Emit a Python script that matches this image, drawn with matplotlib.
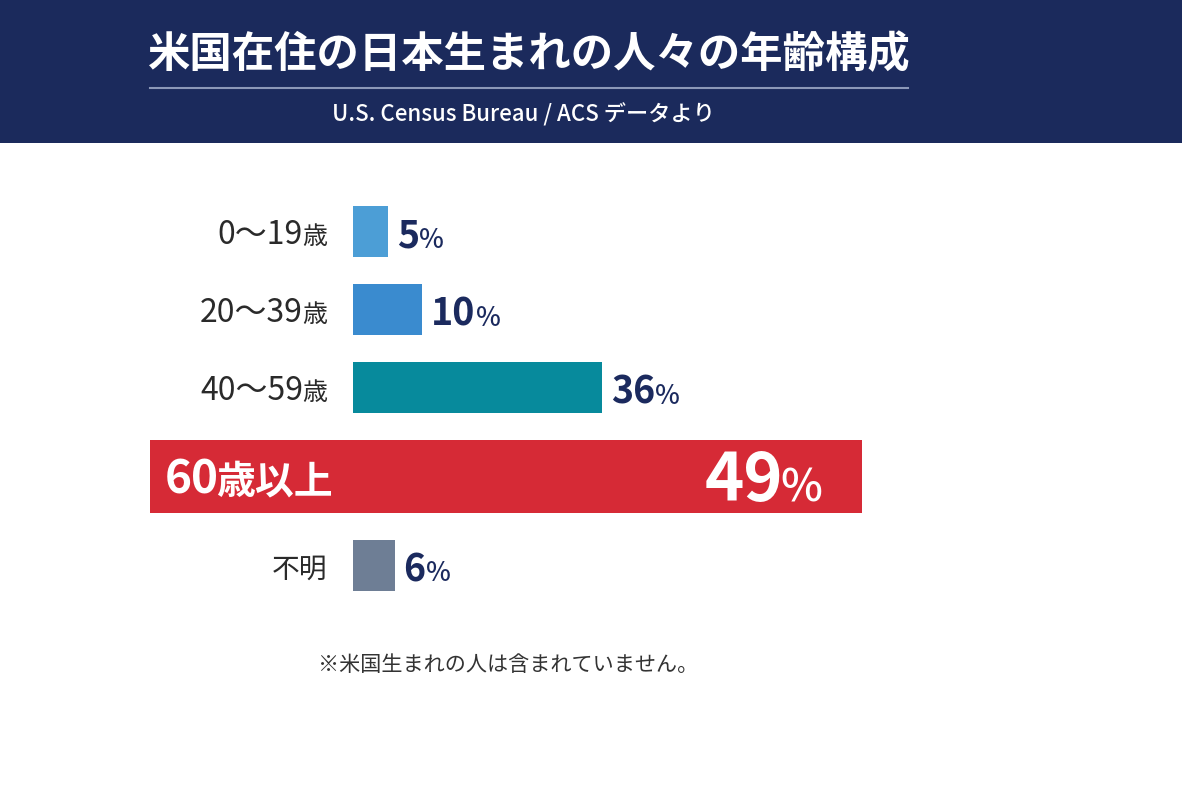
import re
import matplotlib
matplotlib.use("Agg")
import matplotlib.pyplot as plt
from matplotlib.patches import Rectangle
from matplotlib.lines import Line2D
from matplotlib.transforms import blended_transform_factory

plt.rcParams['font.family'] = ['Noto Sans CJK JP', 'DejaVu Sans']

# ---- data ----
categories = ["0〜19歳", "20〜39歳", "40〜59歳", "60歳以上", "不明"]
values = [5, 10, 36, 49, 6]
highlight = "60歳以上"
bar_colors = ["#4C9ED6", "#3A8BCF", "#078A9C", "#D62A36", "#6E7E95"]
title = "米国在住の日本生まれの人々の年齢構成"
subtitle = "U.S. Census Bureau / ACS データより"
footnote = "※米国生まれの人は含まれていません。"

# ---- layout ----
W, H = 1182, 788
navy = "#1B2A5E"
fig = plt.figure(figsize=(W / 100, H / 100), dpi=100)
fig.patch.set_facecolor("white")

# header band
fig.patches.append(Rectangle((0, 1 - 143 / H), 1, 143 / H, transform=fig.transFigure,
                             facecolor="#1B2A5C", edgecolor="none", zorder=0))
fig.add_artist(Line2D([150 / W, 908 / W], [1 - 88 / H] * 2, transform=fig.transFigure,
                      color="#8C98B8", lw=1.5))
fig.text(529 / W, 1 - 55 / H, title, color="white", fontsize=30.5, fontweight="bold",
         ha="center", va="center")
fig.text(523 / W, 1 - 115 / H, subtitle, color="white", fontsize=16, fontweight="medium",
         ha="center", va="center")

# row slots: normal bar height, highlighted bar height and gap (slot units)
h_norm, h_high, gap = 0.654, 0.936, 0.346
unit_px = 78.0
heights = [h_high if c == highlight else h_norm for c in categories]
ypos = [0.0]
for k in range(1, len(categories)):
    ypos.append(ypos[-1] + (heights[k - 1] + heights[k]) / 2 + gap)

first_center_px = 230
top_lim, bot_lim = -0.5, ypos[-1] + 0.5
top_px = first_center_px + top_lim * unit_px + 1.5
bot_px = first_center_px + bot_lim * unit_px + 1.5

px_per_unit = 6.92
left_px, right_px = 353, 1100
ax = fig.add_axes([left_px / W, 1 - bot_px / H, (right_px - left_px) / W, (bot_px - top_px) / H])
ax.set_xlim(0, (right_px - left_px) / px_per_unit)
ax.set_ylim(bot_lim, top_lim)
ax.axis("off")

ax.barh(ypos, values, height=heights, color=bar_colors, zorder=2)

band_tr = blended_transform_factory(fig.transFigure, ax.transData)
mixed = (fig.transFigure, ax.transData)

for i, (cat, v, col, y) in enumerate(zip(categories, values, bar_colors, ypos)):
    m = re.match(r"^([\d~〜]*)(.*)$", cat)
    num, unit = m.group(1), m.group(2)
    if cat == highlight:
        ax.add_patch(Rectangle((150 / W, y - heights[i] / 2), (862 - 150) / W, heights[i],
                               transform=band_tr, facecolor=col, edgecolor="none",
                               zorder=1, clip_on=False))
        t_num = ax.annotate(num, xy=(165 / W, y), xycoords=mixed, xytext=(0, -17),
                            textcoords="offset pixels", ha="left", va="baseline",
                            fontsize=33, fontweight="bold", color="white", zorder=3)
        ax.annotate(unit, xy=(1, y), xycoords=(t_num, ax.transData), xytext=(-3, -17),
                    textcoords="offset pixels", ha="left", va="baseline",
                    fontsize=28, fontweight="bold", color="white", zorder=3)
        t_pct = ax.annotate("%", xy=(822 / W, y), xycoords=mixed, xytext=(0, -25),
                            textcoords="offset pixels", ha="right", va="baseline",
                            fontsize=32, fontweight="medium", color="white", zorder=3)
        ax.annotate(f"{v}", xy=(0, y), xycoords=(t_pct, ax.transData), xytext=(3, -25),
                    textcoords="offset pixels", ha="right", va="baseline",
                    fontsize=48, fontweight="bold", color="white", zorder=3)
    else:
        t_unit = ax.annotate(unit, xy=(0, y), xytext=(-26, -12), textcoords="offset pixels",
                             ha="right", va="baseline", fontsize=18 if num else 20,
                             color="#2A2A2A", annotation_clip=False)
        if num:
            ax.annotate(num, xy=(0, y), xycoords=(t_unit, ax.transData), xytext=(1, -12),
                        textcoords="offset pixels", ha="right", va="baseline",
                        fontsize=23, color="#2A2A2A", annotation_clip=False)
        t_v = ax.annotate(f"{v}", xy=(v, y), xytext=(9, -16), textcoords="offset pixels",
                          ha="left", va="baseline", fontsize=27, fontweight="bold",
                          color=navy)
        ax.annotate("%", xy=(1, y), xycoords=(t_v, ax.transData), xytext=(0, -16),
                    textcoords="offset pixels", ha="left", va="baseline",
                    fontsize=19, fontweight="medium", color=navy)

fig.text(508 / W, 1 - 665 / H, footnote, fontsize=15.2, color="#333333",
         ha="center", va="center")

fig.savefig("out.png", dpi=100, facecolor="white")
